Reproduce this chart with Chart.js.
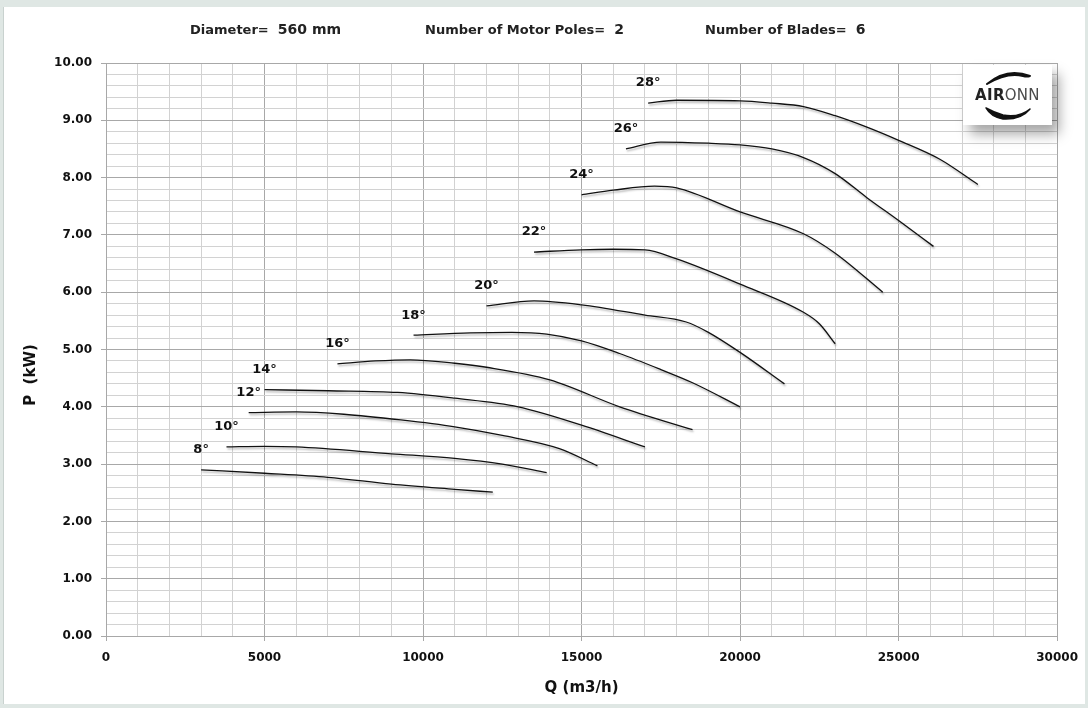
<!doctype html>
<html>
<head>
<meta charset="utf-8">
<script src="https://cdn.jsdelivr.net/npm/chart.js"></script>
<style>
html, body {
	margin: 0;
	padding: 0;
	width: 1088px;
	height: 708px;
	background: #dfe7e4;
	overflow: hidden;
}
.panel {
	position: absolute;
	left: 3px;
	top: 7px;
	width: 1081px;
	height: 697px;
	background: #ffffff;
	border-left: 1px solid #c9d2cf;
}
#chart {
	position: absolute;
	left: 0;
	top: 0;
}
.hdr {
	position: absolute;
	top: 21px;
	font-family: 'DejaVu Sans', sans-serif;
	font-weight: bold;
	font-size: 13px;
	color: #222;
	white-space: pre;
}
.hdr b {
	font-size: 14px;
}
.logo {
	position: absolute;
	left: 963px;
	top: 65px;
	width: 89px;
	height: 60px;
	background: #fff;
	box-shadow: 7px 9px 12px rgba(0,0,0,0.35);
}
</style>
</head>
<body>
<div class="panel"></div>
<canvas id="chart" width="1088" height="708"></canvas>
<div class="hdr" style="left:190px">Diameter=  <b>560 mm</b></div>
<div class="hdr" style="left:425px">Number of Motor Poles=  <b>2</b></div>
<div class="hdr" style="left:705px">Number of Blades=  <b>6</b></div>
<div class="logo">
<svg width="89" height="60" viewBox="0 0 89 60">
	<path d="M24 19 Q44 2 67 11 Q64 12 60 11 Q44 7 24 19 Z" fill="#111" stroke="#111" stroke-width="2" stroke-linejoin="round"/>
	<text x="44.5" y="35" text-anchor="middle" font-family="'DejaVu Sans', sans-serif" font-size="15" letter-spacing="0.3" fill="#222"><tspan font-weight="bold">AIR</tspan><tspan fill="#4a4a4a">ONN</tspan></text>
	<path d="M23 43 Q30 47 40 50 Q56 53 67 44 Q58 55 40 54 Q28 52 23 43 Z" fill="#111" stroke="#111" stroke-width="1.5" stroke-linejoin="round"/>
</svg>
</div>
<script>

	// blade angles and the fan curves (Q in m3/h, P in kW)
	var angles = ['8°', '10°', '12°', '14°', '16°', '18°', '20°', '22°', '24°', '26°', '28°'];

	var q8 = [3000, 5000, 7000, 9000, 11000, 12200];
	var p8 = [2.90, 2.84, 2.77, 2.65, 2.56, 2.51];

	var q10 = [3800, 5000, 6000, 9000, 11000, 12500, 13900];
	var p10 = [3.30, 3.31, 3.30, 3.18, 3.10, 3.00, 2.85];

	var q12 = [4500, 6000, 7500, 9300, 11000, 12500, 14300, 15500];
	var p12 = [3.90, 3.91, 3.87, 3.77, 3.65, 3.50, 3.27, 2.97];

	var q14 = [5000, 7000, 9200, 11000, 13000, 15000, 17000];
	var p14 = [4.30, 4.28, 4.25, 4.15, 4.00, 3.68, 3.30];

	var q16 = [7300, 8500, 9600, 11000, 12000, 14000, 16200, 18500];
	var p16 = [4.75, 4.80, 4.82, 4.76, 4.69, 4.47, 4.00, 3.60];

	var q18 = [9700, 11500, 12800, 13900, 15000, 16200, 17500, 18500, 20000];
	var p18 = [5.25, 5.29, 5.30, 5.27, 5.15, 4.93, 4.65, 4.42, 4.00];

	var q20 = [12000, 13500, 15000, 17000, 18300, 19000, 20000, 21400];
	var p20 = [5.76, 5.85, 5.78, 5.60, 5.48, 5.30, 4.95, 4.40];

	var q22 = [13500, 15000, 16000, 17000, 18000, 20000, 22000, 22500, 23000];
	var p22 = [6.70, 6.74, 6.75, 6.74, 6.58, 6.14, 5.65, 5.45, 5.10];

	var q24 = [15000, 16000, 17300, 18000, 20000, 22000, 23000, 24500];
	var p24 = [7.70, 7.78, 7.85, 7.82, 7.40, 7.02, 6.68, 6.00];

	var q26 = [16400, 17500, 19000, 20000, 21000, 22000, 23000, 24000, 25000, 26100];
	var p26 = [8.50, 8.62, 8.60, 8.57, 8.50, 8.35, 8.07, 7.65, 7.25, 6.80];

	var q28 = [17100, 18000, 20000, 21000, 22000, 23000, 24000, 25000, 26300, 27500];
	var p28 = [9.30, 9.35, 9.34, 9.30, 9.24, 9.08, 8.88, 8.65, 8.32, 7.88];

	var qList = [q8, q10, q12, q14, q16, q18, q20, q22, q24, q26, q28];
	var pList = [p8, p10, p12, p14, p16, p18, p20, p22, p24, p26, p28];

	var majorGrid = '#a8a8a8';
	var minorGrid = '#d2d2d2';

	function isMajorX(v) { return v % 5000 === 0; }
	function isMajorY(v) { return Math.abs(v - Math.round(v)) < 1e-6; }

	var datasets = angles.map(function (a, i) {
		return {
			label: a,
			data: qList[i].map(function (q, j) { return {x: q, y: pList[i][j]}; }),
			showLine: true,
			borderColor: '#111111',
			borderWidth: 1.3,
			pointRadius: 0,
			cubicInterpolationMode: 'monotone',
			fill: false
		};
	});

	// soft shadow under the curves, angle label above each curve start, y title
	var curvePlugin = {
		id: 'curves',
		beforeDatasetsDraw: function (chart) {
			var c = chart.ctx;
			c.save();
			c.shadowColor = 'rgba(0,0,0,0.3)';
			c.shadowOffsetX = 1;
			c.shadowOffsetY = 2;
			c.shadowBlur = 2;
		},
		afterDatasetsDraw: function (chart) {
			var c = chart.ctx;
			c.restore();
			var xs = chart.scales.x, ys = chart.scales.y;
			c.save();
			c.font = 'bold 13px "DejaVu Sans", sans-serif';
			c.fillStyle = '#111';
			c.textAlign = 'center';
			c.textBaseline = 'middle';
			angles.forEach(function (a, i) {
				var px = xs.getPixelForValue(qList[i][0]);
				var py = ys.getPixelForValue(pList[i][0]);
				c.fillText(a, px, py - 20);
			});
			c.translate(31, 375);
			c.rotate(-Math.PI / 2);
			c.font = 'bold 15px "DejaVu Sans", sans-serif';
			c.fillText('P  (kW)', 0, 0);
			c.restore();
		}
	};

	var tickFont = {family: 'DejaVu Sans', weight: 'bold', size: 12};
	var titleFont = {family: 'DejaVu Sans', weight: 'bold', size: 15};

	new Chart(document.getElementById('chart'), {
		type: 'scatter',
		data: {datasets: datasets},
		plugins: [curvePlugin],
		options: {
			responsive: false,
			animation: false,
			layout: {padding: {top: 63, right: 29, left: 16, bottom: 10}},
			plugins: {
				legend: {display: false},
				tooltip: {enabled: false}
			},
			scales: {
				x: {
					type: 'linear',
					min: 0,
					max: 30000,
					afterFit: function (s) { s.height = 62; },
					border: {color: majorGrid},
					grid: {
						color: function (ctx) { return ctx.tick && isMajorX(ctx.tick.value) ? majorGrid : minorGrid; },
						tickColor: function (ctx) { return ctx.tick && isMajorX(ctx.tick.value) ? majorGrid : 'rgba(0,0,0,0)'; },
						tickLength: 5
					},
					ticks: {
						stepSize: 1000,
						autoSkip: false,
						maxRotation: 0,
						padding: 10,
						color: '#111',
						font: tickFont,
						callback: function (v) { return isMajorX(v) ? String(v) : ''; }
					},
					title: {display: true, text: 'Q (m3/h)', color: '#111', font: titleFont, padding: {top: 0, bottom: 1}}
				},
				y: {
					type: 'linear',
					min: 0,
					max: 10,
					afterFit: function (s) { s.width = 90; },
					border: {color: majorGrid},
					grid: {
						color: function (ctx) { return ctx.tick && isMajorY(ctx.tick.value) ? majorGrid : minorGrid; },
						tickColor: function (ctx) { return ctx.tick && isMajorY(ctx.tick.value) ? majorGrid : 'rgba(0,0,0,0)'; },
						tickLength: 5
					},
					ticks: {
						stepSize: 0.2,
						autoSkip: false,
						padding: 9,
						color: '#111',
						font: tickFont,
						callback: function (v) { return isMajorY(v) ? Math.round(v).toFixed(2) : ''; }
					}
				}
			}
		}
	});

</script>
</body>
</html>
